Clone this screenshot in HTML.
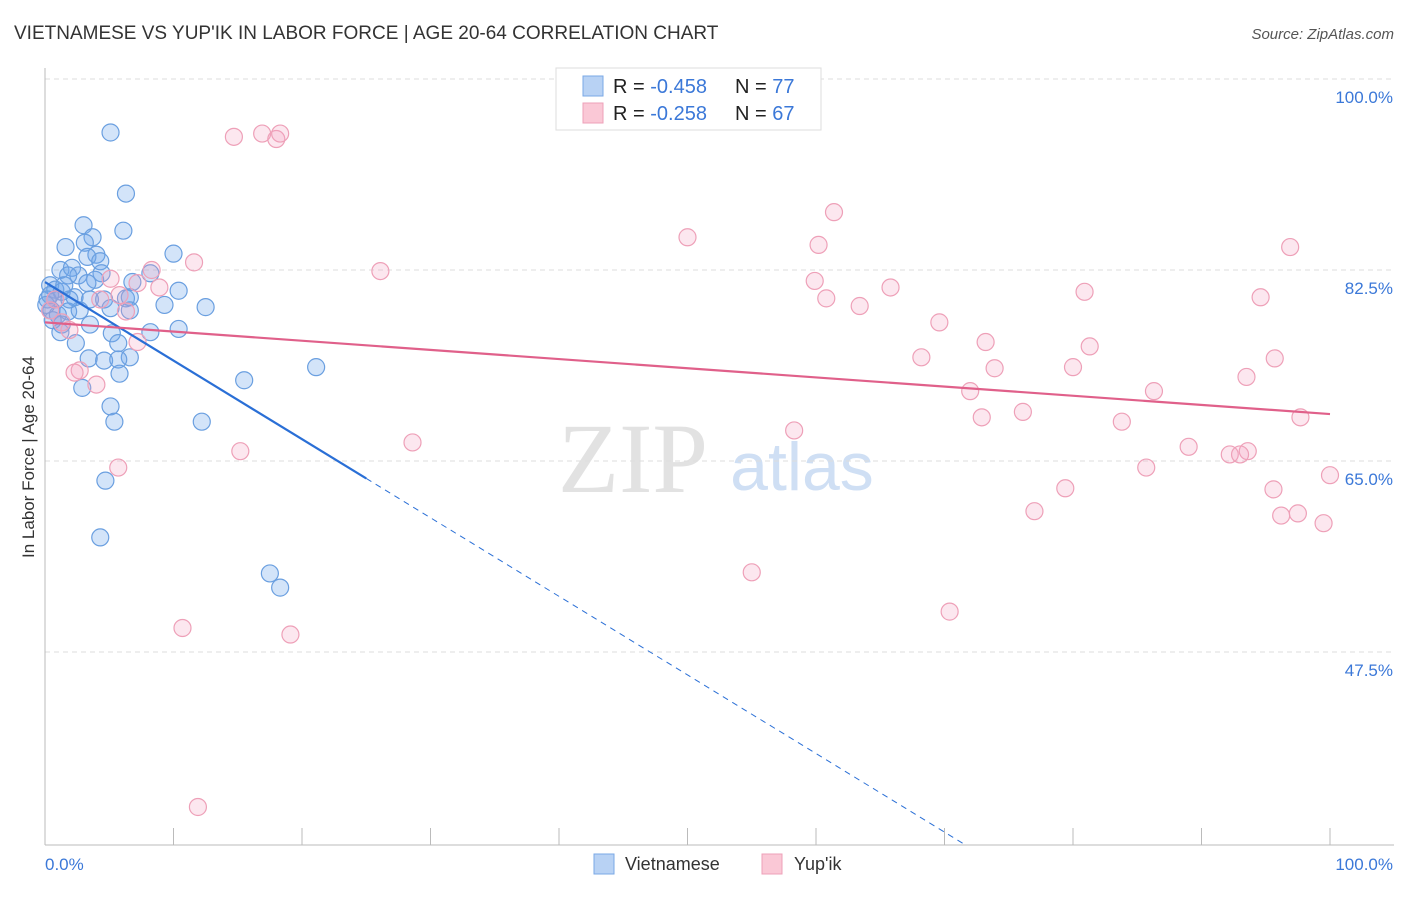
<!DOCTYPE html>
<html><head><meta charset="utf-8"><style>
body{margin:0;background:#fff;font-family:"Liberation Sans",sans-serif}
</style></head><body>
<svg id="c" width="1406" height="892" xmlns="http://www.w3.org/2000/svg">
<text x="14" y="39" font-size="19" fill="#333">VIETNAMESE VS YUP'IK IN LABOR FORCE | AGE 20-64 CORRELATION CHART</text>
<text x="1394" y="39" font-size="15" fill="#555" text-anchor="end" font-style="italic">Source: ZipAtlas.com</text>
<text x="633" y="492" font-size="100" fill="#e2e2e2" text-anchor="middle" font-family="Liberation Serif,serif">ZIP</text>
<text x="802" y="490" font-size="68" fill="#cfdff4" text-anchor="middle">atlas</text>
<g id="grid"></g><g id="axes"></g><g id="pts"></g><g id="lines"></g>
<text transform="translate(34,457) rotate(-90)" font-size="17" fill="#333" text-anchor="middle">In Labor Force | Age 20-64</text>
<g>
<rect x="556" y="68" width="265" height="62" fill="#fff" stroke="#ddd"/>
<rect x="583" y="76" width="20" height="20" fill="#b8d2f4" stroke="#7aa8e6"/>
<rect x="583" y="103" width="20" height="20" fill="#fac8d6" stroke="#eea0b8"/>
<text x="613" y="93" font-size="20" fill="#222">R = <tspan fill="#3b78d8">-0.458</tspan><tspan x="735">N = </tspan><tspan fill="#3b78d8">77</tspan></text>
<text x="613" y="120" font-size="20" fill="#222">R = <tspan fill="#3b78d8">-0.258</tspan><tspan x="735">N = </tspan><tspan fill="#3b78d8">67</tspan></text>
</g>
<g>
<rect x="594" y="854" width="20" height="20" fill="#b8d2f4" stroke="#7aa8e6"/>
<text x="625" y="870" font-size="18" fill="#333">Vietnamese</text>
<rect x="762" y="854" width="20" height="20" fill="#fac8d6" stroke="#eea0b8"/>
<text x="794" y="870" font-size="18" fill="#333">Yup'ik</text>
</g>
</svg>
<script>
const yTicks=[100,82.5,65,47.5];
const yTickLabels=["100.0%","82.5%","65.0%","47.5%"];
const xTicks=[0,10,20,30,40,50,60,70,80,90,100];
const blueX=[5.1,6.3,3.0,6.1,3.7,1.6,3.1,4.0,3.3,4.3,10.0,1.2,2.1,2.6,4.4,1.8,6.8,8.2,10.4,0.4,0.8,1.3,2.3,3.5,4.6,6.3,6.6,9.3,12.5,0.2,0.5,1.0,1.8,2.7,5.1,1.3,3.5,1.2,8.2,10.4,5.2,2.4,5.7,3.4,4.6,6.6,5.7,5.8,15.5,21.1,2.9,5.1,5.4,12.2,4.7,4.3,17.5,18.3,0.4,0.1,0.8,1.9,3.9,6.6,0.6,1.5,3.3];
const blueY=[95.1,89.5,86.6,86.1,85.5,84.6,85.0,83.9,83.7,83.3,84.0,82.5,82.7,82.0,82.2,82.0,81.4,82.2,80.6,81.1,80.7,80.5,80.0,79.8,79.8,79.9,80.0,79.3,79.1,79.8,78.8,78.4,78.7,78.8,79.0,77.5,77.5,76.8,76.8,77.1,76.7,75.8,75.8,74.4,74.2,74.5,74.3,73.0,72.4,73.6,71.7,70.0,68.6,68.6,63.2,58.0,54.7,53.4,80.2,79.3,79.8,79.8,81.6,78.8,77.9,81.1,81.3];
const pinkX=[41.5,14.7,16.9,18.0,18.3,61.4,50.0,60.2,96.9,11.6,8.3,26.1,5.1,7.2,8.9,59.9,65.8,60.8,80.9,94.6,63.4,6.3,69.6,0.4,1.3,73.2,81.3,68.2,95.7,80.0,73.9,7.2,2.7,2.3,4.0,72.0,86.3,93.5,76.1,72.9,83.8,97.7,58.3,28.6,15.2,89.0,93.6,92.2,93.0,85.7,5.7,100,79.4,95.6,77.0,96.2,97.5,99.5,55.0,70.4,10.7,19.1,11.9,0.8,1.9,4.3,5.8];
const pinkY=[99.9,94.7,95.0,94.5,95.0,87.8,85.5,84.8,84.6,83.2,82.5,82.4,81.7,81.3,80.9,81.5,80.9,79.9,80.5,80.0,79.2,78.7,77.7,78.8,77.7,75.9,75.5,74.5,74.4,73.6,73.5,75.9,73.3,73.1,72.0,71.4,71.4,72.7,69.5,69.0,68.6,69.0,67.8,66.7,65.9,66.3,65.9,65.6,65.6,64.4,64.4,63.7,62.5,62.4,60.4,60.0,60.2,59.3,54.8,51.2,49.7,49.1,33.3,79.8,77.0,79.8,80.2];
const blueFit=[81.4,-0.72];
const pinkFit=[77.7,-0.084];
const NS="http://www.w3.org/2000/svg";
const X=v=>45+v*12.85;
const Y=v=>79+(100-v)*191/17.5;
function mk(tag,attrs,parent){const e=document.createElementNS(NS,tag);for(const k in attrs)e.setAttribute(k,attrs[k]);document.getElementById(parent).appendChild(e);return e;}
yTicks.forEach((t,i)=>{
 const l=mk('line',{x1:45,x2:1394,y1:Y(t),y2:Y(t),stroke:'#ddd','stroke-dasharray':'5,4'},'grid');
 
 
 const tx=mk('text',{x:1393,y:Y(t)+24,'font-size':17,fill:'#3b78d8','text-anchor':'end'},'grid');
 tx.textContent=yTickLabels[i];
 
 
});
const ax=mk('line',{x1:45,x2:45,y1:68,y2:845,stroke:'#bbb'},'axes');


const bx=mk('line',{x1:45,x2:1394,y1:845,y2:845,stroke:'#bbb'},'axes');


xTicks.forEach(t=>{const l=mk('line',{x1:X(t),x2:X(t),y1:828,y2:845,stroke:'#bbb'},'axes');
 
 });
[[0,'0.0%','start',45],[100,'100.0%','end',1393]].forEach(a=>{const t=mk('text',{x:a[3],y:870,'font-size':17,fill:'#3b78d8','text-anchor':a[2]},'axes');t.textContent=a[1];
 
 });
blueX.forEach((v,i)=>{const c=mk('circle',{cx:X(v),cy:Y(blueY[i]),r:8.5,fill:'rgba(110,165,235,0.3)',stroke:'#6a9fe0','stroke-width':1.2},'pts');
 
 });
pinkX.forEach((v,i)=>{const c=mk('circle',{cx:X(v),cy:Y(pinkY[i]),r:8.5,fill:'rgba(245,160,190,0.25)',stroke:'#eea0b8','stroke-width':1.2},'pts');
 
 });
const f=(p,x)=>p[0]+p[1]*x;
const bl=mk('line',{x1:X(0),y1:Y(f(blueFit,0)),x2:X(25),y2:Y(f(blueFit,25)),stroke:'#2a6fd6','stroke-width':2.2},'lines');


const xe=(29.8-blueFit[0])/blueFit[1];
const bd=mk('line',{x1:X(25),y1:Y(f(blueFit,25)),x2:X(xe),y2:Y(29.8),stroke:'#2a6fd6','stroke-width':1,'stroke-dasharray':'6,5'},'lines');


const pl=mk('line',{x1:X(0),y1:Y(f(pinkFit,0)),x2:X(100),y2:Y(f(pinkFit,100)),stroke:'#e0608a','stroke-width':2.2},'lines');


</script>
</body></html>
